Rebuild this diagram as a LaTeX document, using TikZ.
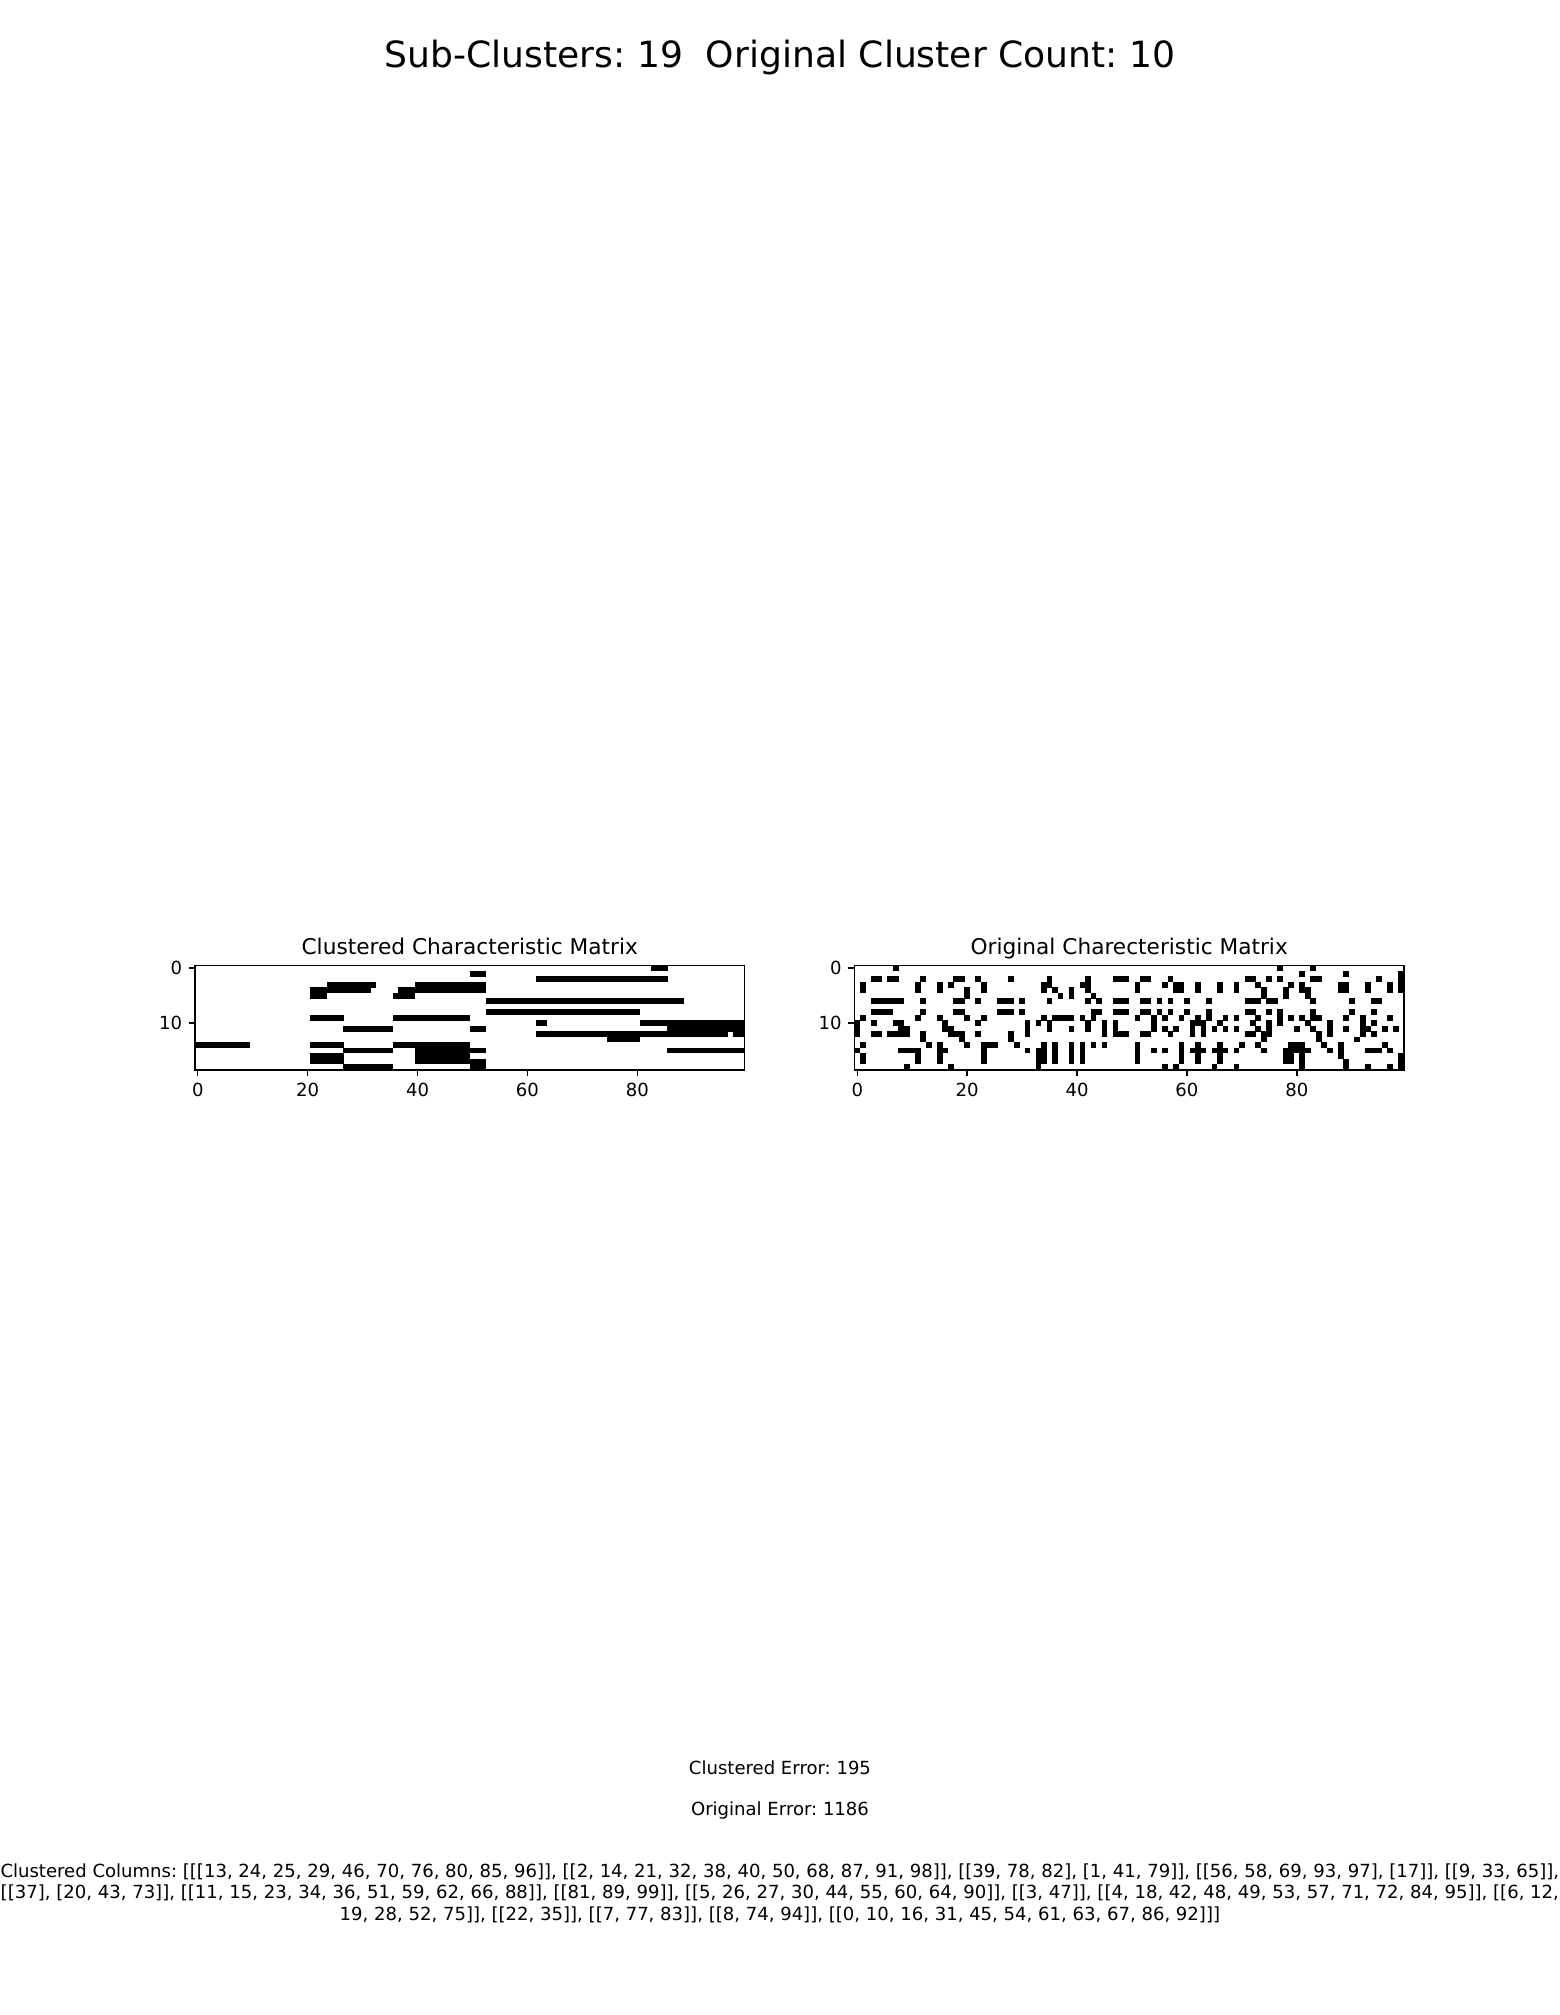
\documentclass[tikz,border=0pt]{standalone}
\usepackage{fontspec}
\setmainfont{DejaVu Sans}
\frenchspacing
\begin{document}
\begin{tikzpicture}[x=0.0076923in, y=-0.0076923in,
  cellfill/.style={fill=black},
  axframe/.style={draw=black, line width=0.8bp},
  tickmark/.style={draw=black, line width=0.8bp},
  ticklab/.style={font=\fontsize{10bp}{12bp}\selectfont, inner sep=0pt},
  axtitle/.style={font=\fontsize{12bp}{14bp}\selectfont, inner sep=0pt, anchor=base},
  figtext/.style={font=\fontsize{10bp}{12bp}\selectfont, inner sep=0pt, align=center}]
\useasboundingbox (0,0) rectangle (1560,2015);
\fill[white] (0,0) rectangle (1560,2015);
\def\cw{5.495}
% ---------- title
\node[font=\fontsize{20bp}{24bp}\selectfont, inner sep=0pt, anchor=base] (ttl) at (780,67) {Sub-Clusters: 19\ \ Original Cluster Count: 10};
% ---------- clustered matrix
\begin{scope}
\clip (195,965.4) rectangle (744.5,1069.8);
\foreach \r/\a/\b in {0/83/85, 1/50/52, 2/62/85, 3/24/32, 3/40/52, 4/21/31, 4/37/52, 5/21/23, 5/36/39,
  6/53/88, 8/53/80, 9/21/26, 9/36/49, 10/62/63, 10/81/99, 11/27/35, 11/50/52, 11/86/99,
  12/62/96, 12/98/99, 13/75/80, 14/0/9, 14/21/26, 14/36/49, 15/27/35, 15/40/52, 15/86/99,
  16/21/26, 16/40/49, 17/21/26, 17/40/52, 18/27/35, 18/50/52}
  \fill[cellfill] (195+\cw*\a-0.15, 965.4+\cw*\r-0.15) rectangle (195+\cw*\b+\cw+0.15, 965.4+\cw*\r+\cw+0.15);
\end{scope}
\draw[axframe] (195,965.4) rectangle (744.5,1069.8);
% ---------- original matrix
\begin{scope}
\clip (854.5,965.4) rectangle (1404,1069.8);
\foreach \r/\cols in {
 0/{7,77,83},
 1/{81,89,99},
 2/{3,4,6,7,12,18,19,22,28,35,42,47,48,49,52,53,57,71,72,75,77,83,84,95,99},
 3/{1,11,15,17,23,34,35,41,42,51,56,58,59,62,66,69,73,79,81,88,89,93,97,99},
 4/{1,11,15,20,23,34,36,39,42,51,58,59,62,66,69,74,78,81,82,88,89,93,97,99},
 5/{20,37,39,43,74,78,82},
 6/{3,4,5,6,7,8,12,18,19,22,26,27,28,30,35,42,44,47,48,49,52,53,55,57,60,64,71,72,73,75,76,83,90,94,95},
 8/{3,4,5,6,12,18,19,26,27,28,30,43,44,47,48,49,52,53,55,57,60,64,71,72,75,77,83,90,94},
 9/{1,11,15,20,23,34,36,37,38,39,41,43,51,54,56,59,62,64,67,69,73,77,79,81,83,84,89,92,97},
 10/{0,3,7,8,16,22,31,33,35,42,45,47,54,61,62,63,66,72,75,77,82,86,92,94},
 11/{0,8,9,16,17,31,35,39,42,45,47,54,56,58,61,63,65,67,69,73,75,80,83,86,89,92,93,96,98},
 12/{0,3,4,6,7,8,9,12,17,18,19,22,28,31,45,47,48,49,52,53,57,61,63,71,72,74,75,84,86,92,94},
 13/{12,19,28,74,84,91},
 14/{1,13,15,20,23,24,25,29,34,36,39,41,43,45,51,59,62,66,70,73,79,80,81,85,88,96},
 15/{0,8,9,10,11,15,16,23,31,33,34,36,39,41,51,54,56,59,61,62,63,65,66,67,69,74,78,79,80,81,82,86,88,93,94,95,97},
 16/{1,11,15,23,33,34,36,39,41,51,59,62,66,78,79,81,88,99},
 17/{1,11,15,23,33,34,36,39,41,51,59,62,66,78,79,81,89,99},
 18/{9,17,33,56,58,65,69,81,89,93,97,99}}
 {\foreach \c in \cols
   {\fill[cellfill] (854.5+\cw*\c-0.15, 965.4+\cw*\r-0.15) rectangle (854.5+\cw*\c+\cw+0.15, 965.4+\cw*\r+\cw+0.15);}}
\end{scope}
\draw[axframe] (854.5,965.4) rectangle (1404,1069.8);
% ---------- axes titles
\node[axtitle] (t1) at (469.75,954.6) {Clustered Characteristic Matrix};
\node[axtitle] (t2) at (1129.25,954.6) {Original Charecteristic Matrix};
% ---------- ticks
\foreach \L/\nm in {195/a, 854.5/b} {
  \foreach \r/\lab in {0/0, 10/10} {
    \draw[tickmark] (\L,965.4+\cw*\r+\cw/2) -- ++(-6.32,0);
    \node[ticklab, anchor=east] (y\nm\r) at (\L-12.64,965.4+\cw*\r+\cw/2) {\lab};
  }
  \foreach \c in {0,20,40,60,80} {
    \draw[tickmark] (\L+\cw*\c+\cw/2,1069.8) -- ++(0,6.32);
    \node[ticklab, anchor=north] (x\nm\c) at (\L+\cw*\c+\cw/2,1069.8+12.64) {\c};
  }
}
% ---------- figure texts
\node[figtext] (e1) at (780,1768) {Clustered Error: 195};
\node[figtext] (e2) at (780,1810) {Original Error: 1186};
\node[figtext] (cols) at (780,1893) {Clustered Columns: [[[13, 24, 25, 29, 46, 70, 76, 80, 85, 96]], [[2, 14, 21, 32, 38, 40, 50, 68, 87, 91, 98]], [[39, 78, 82], [1, 41, 79]], [[56, 58, 69, 93, 97], [17]], [[9, 33, 65]],\\{}%
[[37], [20, 43, 73]], [[11, 15, 23, 34, 36, 51, 59, 62, 66, 88]], [[81, 89, 99]], [[5, 26, 27, 30, 44, 55, 60, 64, 90]], [[3, 47]], [[4, 18, 42, 48, 49, 53, 57, 71, 72, 84, 95]], [[6, 12,\\{}%
19, 28, 52, 75]], [[22, 35]], [[7, 77, 83]], [[8, 74, 94]], [[0, 10, 16, 31, 45, 54, 61, 63, 67, 86, 92]]]};
\end{tikzpicture}
\end{document}
